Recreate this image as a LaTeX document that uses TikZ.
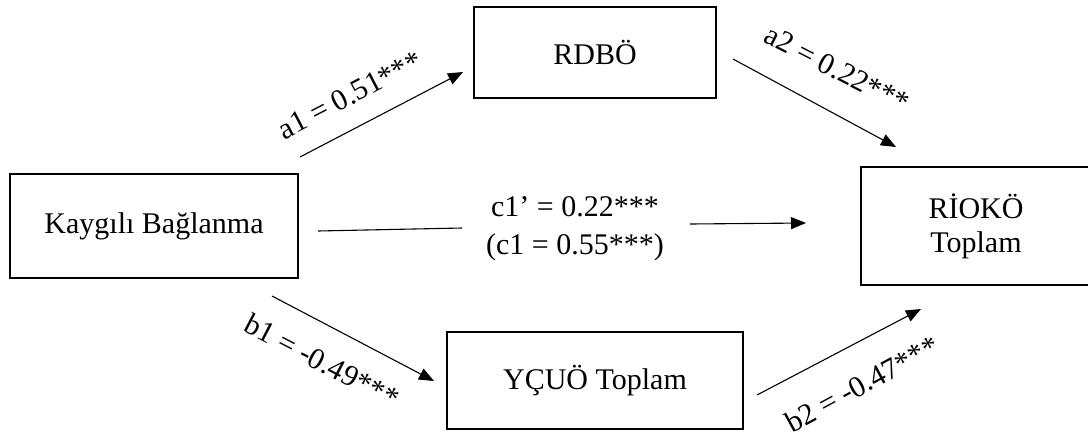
\documentclass[tikz,border=0pt]{standalone}
\usepackage{fontspec}
\setmainfont{Liberation Serif}
\usetikzlibrary{arrows.meta}

\begin{document}
\begin{tikzpicture}[x=0.5pt,y=-0.5pt,font=\fontsize{15}{17}\selectfont]
    \tikzstyle{var}=[draw, line width=1pt, inner sep=0pt, align=center]
    \tikzstyle{effect}=[-{Triangle[length=7.5pt,width=6pt]}, line width=0.55pt]
    \tikzstyle{coef}=[inner sep=0pt]

    \useasboundingbox (0,0) rectangle (1088,440);

    % Draw the variables (predictor, mediators, outcome)
    \node[var, minimum width=144pt, minimum height=52pt] (X) at (154,226) {Kaygılı Bağlanma};
    \node[var, minimum width=121pt, minimum height=45.5pt] (M1) at (595,52.5) {RDBÖ};
    \node[var, minimum width=148pt, minimum height=48.5pt] (M2) at (595,380.5) {YÇUÖ Toplam};
    \node[var, minimum width=115pt, minimum height=59pt] (Y) at (976,226) {RİOKÖ\\Toplam};

    % Free ends of the paths
    \coordinate (a1s) at (300,157);
    \coordinate (a1e) at (463,72);
    \coordinate (a2s) at (733,59);
    \coordinate (a2e) at (896,147);
    \coordinate (b1s) at (272,296);
    \coordinate (b1e) at (434,381);
    \coordinate (b2s) at (757,395);
    \coordinate (b2e) at (921,309);
    \coordinate (c1s) at (318,231);
    \coordinate (c1m) at (462,228);
    \coordinate (c1n) at (690,224);
    \coordinate (c1e) at (806,223);

    % Indirect paths
    \draw[effect] (a1s) -- (a1e);
    \draw[effect] (a2s) -- (a2e);
    \draw[effect] (b1s) -- (b1e);
    \draw[effect] (b2s) -- (b2e);

    % Direct path, broken by its label
    \draw[line width=0.55pt] (c1s) -- (c1m);
    \draw[effect] (c1n) -- (c1e);
    \node[coef, align=center, font=\fontsize{15}{19}\selectfont] (c1) at (575,229) {c1’ = 0.22***\\(c1 = 0.55***)};

    % Annotate the paths
    \node[coef, rotate=27.5] (la1) at (350,95) {a1 = 0.51***};
    \node[coef, rotate=-27] (la2) at (837,69) {a2 = 0.22***};
    \node[coef, rotate=-27.5] (lb1) at (322,361) {b1 = -0.49***};
    \node[coef, rotate=28.5] (lb2) at (862,384) {b2 = -0.47***};
\end{tikzpicture}
\end{document}
